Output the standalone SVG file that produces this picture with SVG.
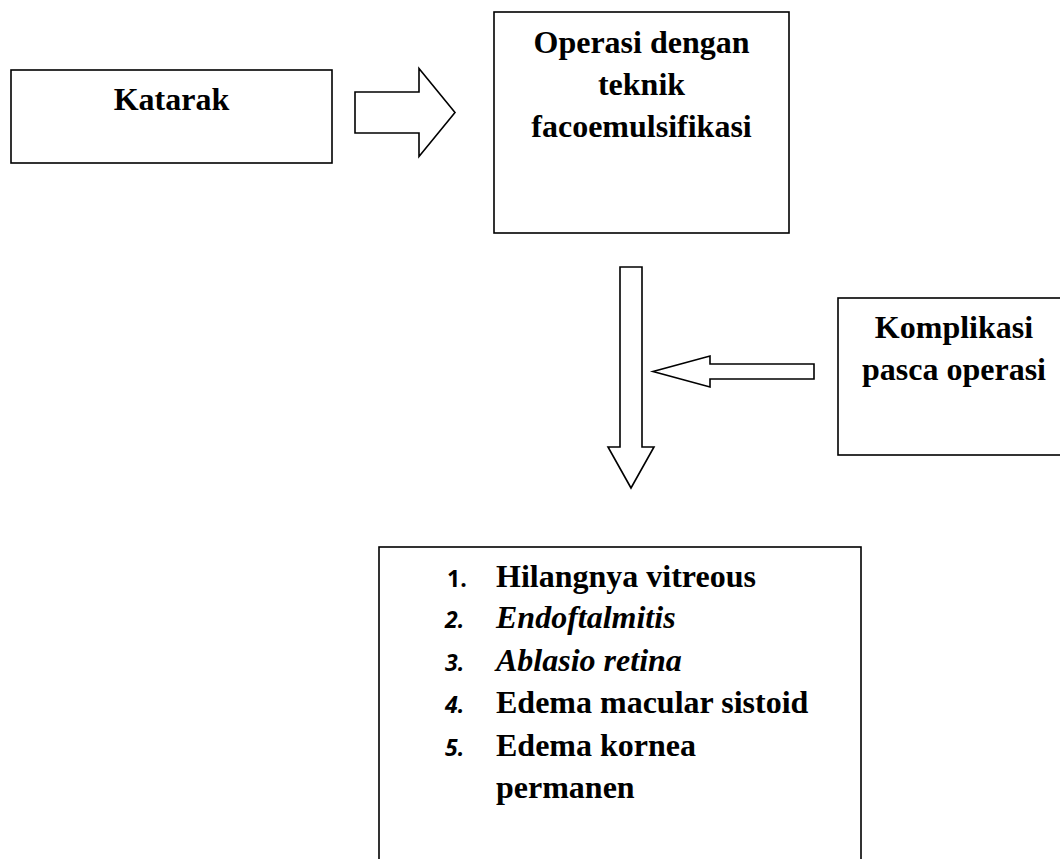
<svg xmlns="http://www.w3.org/2000/svg" width="1060" height="859" viewBox="0 0 1060 859">
<style>
.box{fill:#fff;stroke:#000;stroke-width:1.6}
.arr{fill:#fff;stroke:#000;stroke-width:1.6;stroke-linejoin:miter}
.t{font-family:"Liberation Serif","Times New Roman",serif;font-weight:bold;font-size:32px;fill:#000}
.c{text-anchor:middle}
.n{font-family:"Open Sans","Liberation Sans",sans-serif;font-weight:bold;font-size:23px;fill:#000}
.i{font-style:italic}
</style>
<rect width="1060" height="859" fill="#fff"/>
<g id="katarak">
<rect class="box" x="11" y="70" width="321" height="93"/>
<text class="t c" x="171.5" y="110">Katarak</text>
</g>
<g id="operasi">
<rect class="box" x="494" y="12" width="295" height="221"/>
<text class="t c" x="641.5" y="53">Operasi dengan</text>
<text class="t c" x="641.5" y="95">teknik</text>
<text class="t c" x="641.5" y="137">facoemulsifikasi</text>
</g>
<g id="komplikasi">
<rect class="box" x="838" y="298" width="240" height="157"/>
<text class="t c" x="954" y="338">Komplikasi</text>
<text class="t c" x="954" y="380">pasca operasi</text>
</g>
<g id="daftar">
<rect class="box" x="379" y="547" width="482" height="330"/>
<text class="n" x="447" y="587">1.</text>
<text class="t" x="496" y="587">Hilangnya vitreous</text>
<text class="n i" x="445" y="628">2.</text>
<text class="t i" x="496" y="628">Endoftalmitis</text>
<text class="n i" x="445" y="671">3.</text>
<text class="t i" x="496" y="671">Ablasio retina</text>
<text class="n i" x="445" y="713">4.</text>
<text class="t" x="496" y="713">Edema macular sistoid</text>
<text class="n i" x="445" y="756">5.</text>
<text class="t" x="496" y="756">Edema kornea</text>
<text class="t" x="496" y="798">permanen</text>
</g>
<g id="connectors">
<polygon class="arr" points="355,92 419,92 419,68.5 455,112.5 419,156.5 419,133 355,133"/>
<polygon class="arr" points="620,267 642,267 642,447 654,447 631,488 608,447 620,447"/>
<polygon class="arr" points="814,364 710,364 710,356 653,371.5 710,387 710,379 814,379"/>
</g>
</svg>
